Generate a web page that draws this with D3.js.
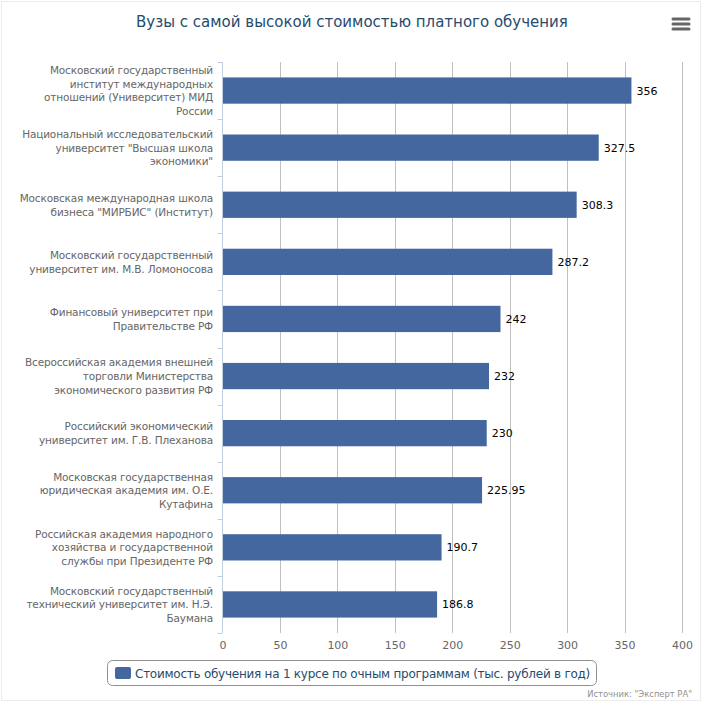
<!DOCTYPE html>
<html><head><meta charset="utf-8">
<script src="https://cdn.jsdelivr.net/npm/d3@7/dist/d3.min.js"></script>
<style>body{margin:0;background:#fff}svg{display:block;font-family:"DejaVu Sans",Verdana,sans-serif}</style>
</head><body>
<svg id="c" width="704" height="704"></svg>
<script>
const title = "Вузы с самой высокой стоимостью платного обучения";
const categories = [
  "Московский государственный\nинститут международных\nотношений (Университет) МИД\nРоссии",
  "Национальный исследовательский\nуниверситет \"Высшая школа\nэкономики\"",
  "Московская международная школа\nбизнеса \"МИРБИС\" (Институт)",
  "Московский государственный\nуниверситет им. М.В. Ломоносова",
  "Финансовый университет при\nПравительстве РФ",
  "Всероссийская академия внешней\nторговли Министерства\nэкономического развития РФ",
  "Российский экономический\nуниверситет им. Г.В. Плеханова",
  "Московская государственная\nюридическая академия им. О.Е.\nКутафина",
  "Российская академия народного\nхозяйства и государственной\nслужбы при Президенте РФ",
  "Московский государственный\nтехнический университет им. Н.Э.\nБаумана"
];
const values = [356, 327.5, 308.3, 287.2, 242, 232, 230, 225.95, 190.7, 186.8];
const xTicks = [0, 50, 100, 150, 200, 250, 300, 350, 400];
const seriesName = "Стоимость обучения на 1 курсе по очным программам (тыс. рублей в год)";
const credits = "Источник: \"Эксперт РА\"";

const svg = d3.select("#c");
const barColor = "#4467a0";
const L = 222.5, R = 682, T = 62, B = 633;

svg.append("rect").attr("x",1.5).attr("y",1.5).attr("width",699).attr("height",699)
  .attr("fill","#fff").attr("stroke","#ececec").attr("stroke-width",1);

const x = d3.scaleLinear().domain([0,400]).range([L,R]);
const y = d3.scaleBand().domain(d3.range(categories.length)).range([T,B]).paddingInner(0.54).paddingOuter(0.27);
const yb = d3.scaleBand().domain(d3.range(categories.length)).range([T,B]);

// gridlines
svg.append("g").selectAll("line").data(xTicks.slice(1)).join("line")
  .attr("x1",d=>Math.round(x(d))+0.5).attr("x2",d=>Math.round(x(d))+0.5)
  .attr("y1",T).attr("y2",B).attr("stroke","#c0c0c0").attr("stroke-width",1);

// x axis labels
const xa = svg.append("g").attr("transform",`translate(0,${B})`)
  .call(d3.axisBottom(x).tickValues(xTicks).tickSize(0).tickPadding(8));
xa.select(".domain").remove();
xa.selectAll("text").attr("fill","#666").style("font-size","11px").style("font-family","DejaVu Sans, Verdana, sans-serif");

// bars
svg.append("g").selectAll("rect").data(values).join("rect")
  .attr("x",x(0)).attr("y",(d,i)=>y(i)).attr("width",d=>x(d)-x(0)).attr("height",y.bandwidth())
  .attr("fill",barColor);

// y axis line & ticks
const yl = Math.round(L)-0.5;
svg.append("line").attr("x1",yl).attr("x2",yl).attr("y1",T).attr("y2",B).attr("stroke","#c0d0e0");
svg.append("g").selectAll("line").data(d3.range(categories.length+1)).join("line")
  .attr("x1",yl-5).attr("x2",yl).attr("y1",d=>Math.round(T+d*yb.step())+0.5).attr("y2",d=>Math.round(T+d*yb.step())+0.5)
  .attr("stroke","#c0d0e0");

// category labels
const lab = svg.append("g");
categories.forEach((c,i)=>{
  const lines = c.split("\n");
  const lh = 13.7;
  const cy = yb(i)+yb.bandwidth()/2;
  const y0 = cy - (lines.length-1)*lh/2 + 4;
  const t = lab.append("text").attr("text-anchor","end").attr("fill","#666")
    .style("font-size","10.5px").style("letter-spacing","-0.15px");
  lines.forEach((ln,k)=>t.append("tspan").attr("x",213).attr("y",y0+k*lh).text(ln));
});

// data labels
svg.append("g").selectAll("text").data(values).join("text")
  .attr("x",d=>x(d)+5).attr("y",(d,i)=>y(i)+y.bandwidth()/2+4)
  .attr("fill","#000").style("font-size","11px").text(d=>d);

// title
svg.append("text").attr("x",352).attr("y",27).attr("text-anchor","middle")
  .attr("fill","#274b6d").style("font-size","15px").text(title);

// menu icon
svg.append("g").selectAll("line").data([0,1,2]).join("line")
  .attr("x1",673).attr("x2",689).attr("y1",d=>19+d*5).attr("y2",d=>19+d*5)
  .attr("stroke","#666").attr("stroke-width",3).attr("stroke-linecap","round");

// legend
const lg = svg.append("g");
lg.append("rect").attr("x",107.5).attr("y",660.5).attr("width",489).attr("height",25).attr("rx",5)
  .attr("fill","#fff").attr("stroke","#909090");
lg.append("rect").attr("x",115).attr("y",667).attr("width",16).attr("height",12).attr("rx",2).attr("fill",barColor);
lg.append("text").attr("x",135).attr("y",678).attr("fill","#274b6d")
  .style("font-size","12px").style("letter-spacing","-0.25px").text(seriesName);

// credits
svg.append("text").attr("x",692).attr("y",697).attr("text-anchor","end").attr("fill","#909090")
  .style("font-size","8.4px").text(credits);
</script>
</body></html>
